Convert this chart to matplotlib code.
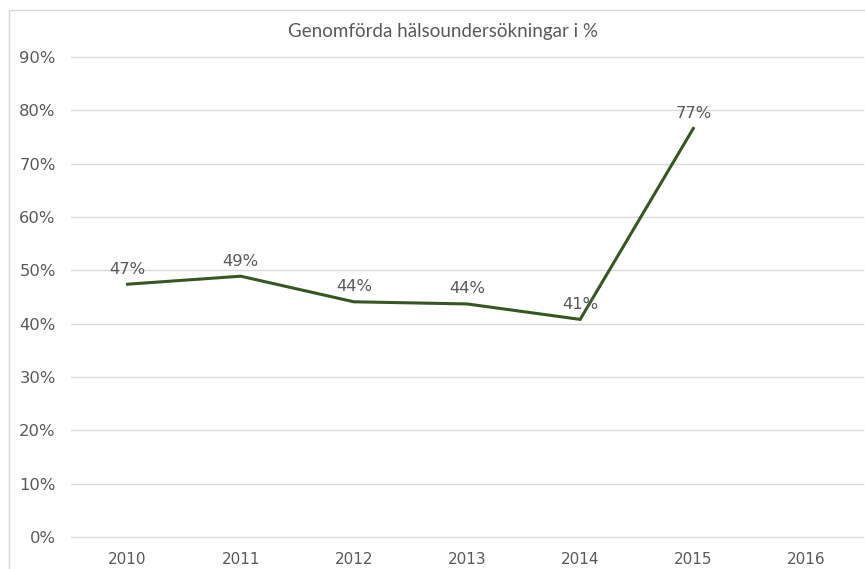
import matplotlib
matplotlib.use("Agg")
import matplotlib.pyplot as plt
from matplotlib.patches import Rectangle

years = ["2010", "2011", "2012", "2013", "2014", "2015", "2016"]
values = [47.4, 48.9, 44.1, 43.7, 40.8, 76.6]
labels = ["47%", "49%", "44%", "44%", "41%", "77%"]
yticks = [0, 10, 20, 30, 40, 50, 60, 70, 80, 90]
title = "Genomförda hälsoundersökningar i %"

W, H = 865, 569
fig = plt.figure(figsize=(W / 100, H / 100), dpi=100)
fig.patch.set_facecolor("white")

# chart area border (cropped at right/bottom)
fig.patches.append(Rectangle((9 / W, -0.5), 2.0, 1.5 - 10 / H, transform=fig.transFigure,
                             fill=False, edgecolor="#d9d9d9", linewidth=1.0))

ax = fig.add_axes([71 / W, (H - 537) / H, (863 - 71) / W, (537 - 57) / H])
x = list(range(len(years)))
ax.plot(x[:len(values)], values, color="#375623", linewidth=2.2, solid_joinstyle="miter")
for xi, v, lab in zip(x, values, labels):
    ax.annotate(lab, (xi, v), xytext=(0, 5.5), textcoords="offset points",
                ha="center", va="bottom", fontsize=11.8, color="#595959",
                family="DejaVu Sans")

ax.set_xlim(-0.5, len(years) - 0.5)
ax.set_ylim(0, 90)
ax.set_xticks(x)
ax.set_xticklabels(years, family="DejaVu Sans", fontsize=11)
ax.set_yticks(yticks)
ax.set_yticklabels([f"{t}%" for t in yticks], family="DejaVu Sans", fontsize=11.8)
ax.grid(axis="y", color="#d9d9d9", linewidth=1.0)
for gl in ax.get_ygridlines():
    gl.set_clip_on(False)
ax.set_axisbelow(True)
for s in ax.spines.values():
    s.set_visible(False)
ax.tick_params(axis="both", length=0, labelcolor="#595959")
ax.tick_params(axis="x", pad=10.5)
ax.tick_params(axis="y", pad=11)

fig.text(443 / W, 1 - 31 / H, title, ha="center", va="center", fontsize=13.5,
         color="#595959", family=["Lato", "DejaVu Sans"])

fig.savefig("out.png", dpi=100)
